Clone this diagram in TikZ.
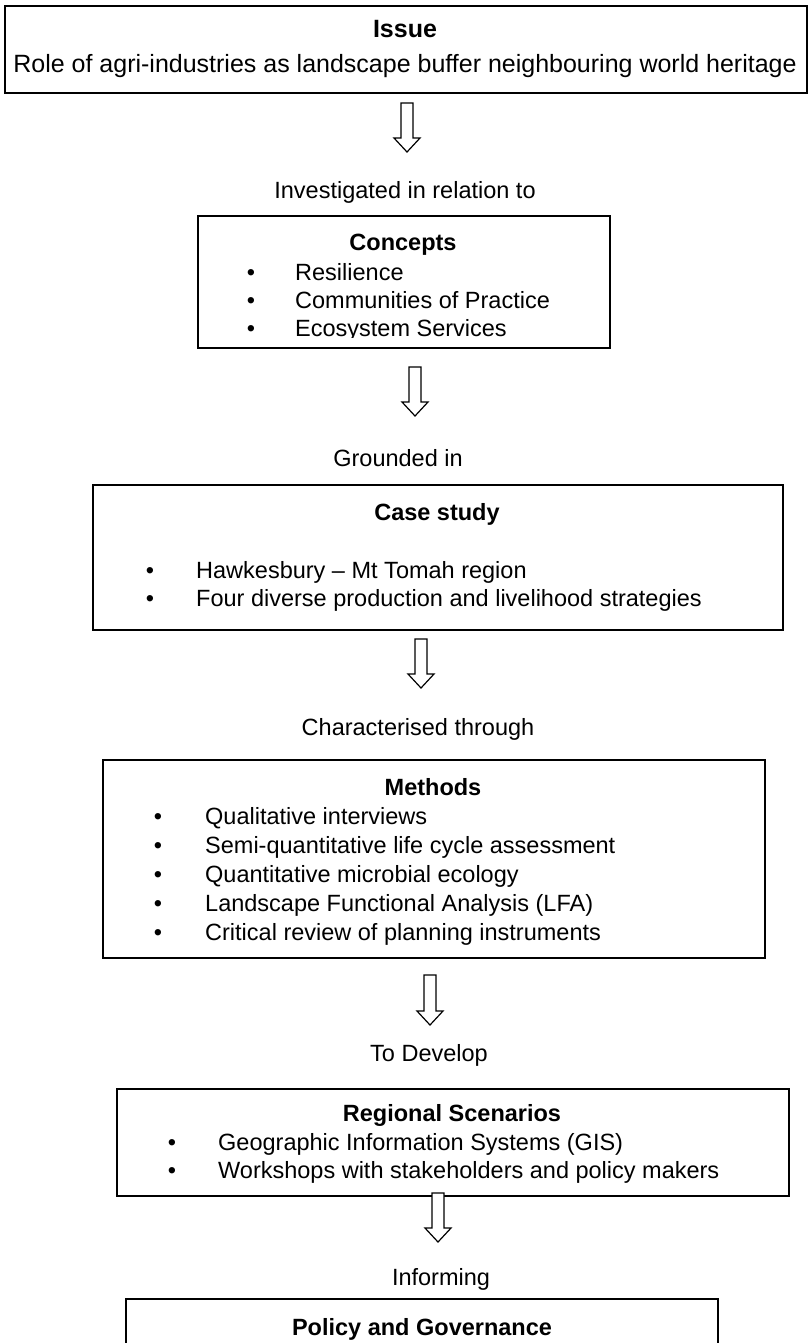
\documentclass[tikz,border=0pt]{standalone}
\usepackage{fontspec}
\setmainfont{Liberation Sans}
\newcommand{\bodyfont}{\fontsize{23.5}{28}\selectfont}
\newcommand{\issuefont}{\fontsize{25}{30}\selectfont}
\begin{document}
\begin{tikzpicture}[x=1pt,y=-1pt,
  box/.style={draw=black, line width=1.9pt, inner sep=0pt, anchor=north west},
  arr/.style={draw=black, line width=1.2pt, fill=white, line join=miter},
  lbl/.style={inner sep=0pt, anchor=base, font=\bodyfont},
  ttl/.style={inner sep=0pt, anchor=base, font=\bodyfont\bfseries},
  itm/.style={inner sep=0pt, anchor=base west, font=\bodyfont},
  bul/.style={inner sep=0pt, anchor=base, font=\bodyfont}]
\useasboundingbox (0,0) rectangle (808,1343);
\newcommand{\blockarrow}[4]{%
  \coordinate (#1s) at (#2,#3);
  \coordinate (#1e) at (#2,#4);
  \draw[arr] (#2-6,#3) -- (#2+6,#3) -- (#2+6,#4-14) -- (#2+13,#4-14) -- (#1e)
     -- (#2-13,#4-14) -- (#2-6,#4-14) -- cycle;}
% Issue
\node[box, minimum width=802pt, minimum height=87pt] (issue) at (4,5) {};
\node[ttl, font=\issuefont\bfseries] (issuet) at (405,38) {Issue};
\node[lbl, font=\issuefont] (issuel) at (405,73) {Role of agri-industries as landscape buffer neighbouring world heritage};
\blockarrow{a1}{407}{103}{152}
\node[lbl] (l1) at (405,198) {Investigated in relation to};
% Concepts
\node[box, minimum width=412pt, minimum height=132pt] (concepts) at (197,215) {};
\node[ttl] (conceptst) at (403,250) {Concepts};
\begin{scope}
\clip (197,215) rectangle (609,337);
\node[bul] (c1b) at (251,280) {•};
\node[itm] (c1) at (295,280) {Resilience};
\node[bul] (c2b) at (251,308) {•};
\node[itm] (c2) at (295,308) {Communities of Practice};
\node[bul] (c3b) at (251,336) {•};
\node[itm] (c3) at (295,336) {Ecosystem Services};
\end{scope}
\blockarrow{a2}{415}{367}{416}
\node[lbl] (l2) at (398,466) {Grounded in};
% Case study
\node[box, minimum width=690pt, minimum height=145pt] (case) at (92,484) {};
\node[ttl] (caset) at (437,520) {Case study};
\node[bul] (k1b) at (150,578) {•};
\node[itm] (k1) at (196,578) {Hawkesbury – Mt Tomah region};
\node[bul] (k2b) at (150,606) {•};
\node[itm] (k2) at (196,606) {Four diverse production and livelihood strategies};
\blockarrow{a3}{421}{639}{688}
\node[lbl] (l3) at (418,735) {Characterised through};
% Methods
\node[box, minimum width=662pt, minimum height=198pt] (methods) at (102,759) {};
\node[ttl] (methodst) at (433,795) {Methods};
\node[bul] (m1b) at (158,824) {•};
\node[itm] (m1) at (205,824) {Qualitative interviews};
\node[bul] (m2b) at (158,853) {•};
\node[itm] (m2) at (205,853) {Semi-quantitative life cycle assessment};
\node[bul] (m3b) at (158,882) {•};
\node[itm] (m3) at (205,882) {Quantitative microbial ecology};
\node[bul] (m4b) at (158,911) {•};
\node[itm] (m4) at (205,911) {Landscape Functional Analysis (LFA)};
\node[bul] (m5b) at (158,940) {•};
\node[itm] (m5) at (205,940) {Critical review of planning instruments};
\blockarrow{a4}{430}{975}{1025}
\node[lbl] (l4) at (429,1061) {To Develop};
% Regional Scenarios
\node[box, minimum width=672pt, minimum height=107pt] (regional) at (116,1088) {};
\node[ttl] (regionalt) at (452,1121) {Regional Scenarios};
\node[bul] (r1b) at (172,1150) {•};
\node[itm] (r1) at (218,1150) {Geographic Information Systems (GIS)};
\node[bul] (r2b) at (172,1178) {•};
\node[itm] (r2) at (218,1178) {Workshops with stakeholders and policy makers};
\blockarrow{a5}{438}{1193}{1242}
\node[lbl] (l5) at (441,1285) {Informing};
% Policy
\coordinate (pbl) at (126,1350);
\coordinate (ptl) at (126,1299);
\coordinate (ptr) at (718,1299);
\coordinate (pbr) at (718,1350);
\draw[line width=1.9pt] (pbl) -- (ptl) -- (ptr) -- (pbr);
\node[ttl] (policyt) at (422,1335) {Policy and Governance};
\end{tikzpicture}
\end{document}
